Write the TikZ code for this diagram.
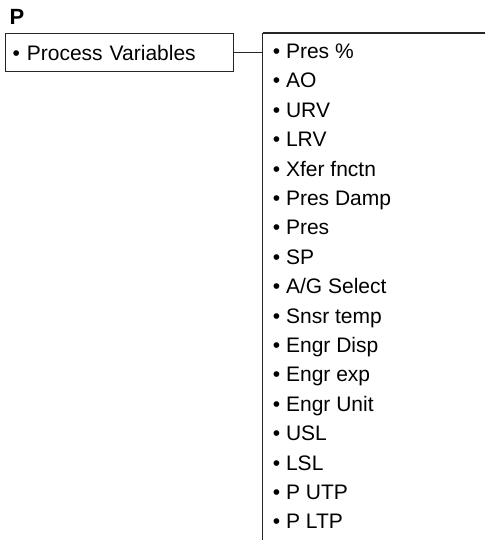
\documentclass[tikz,border=0pt]{standalone}
\usepackage{fontspec}
\setmainfont{Liberation Sans}
\usetikzlibrary{positioning,calc}

\begin{document}
\begin{tikzpicture}[
    x=1bp, y=1bp,
    line/.style={draw=black!85, line width=1.1bp},
    box/.style={line, anchor=north west, align=left, minimum width=228bp, minimum height=38bp, text width=213bp, inner xsep=7.5bp, font=\fontsize{21bp}{25bp}\selectfont},
    varlist/.style={anchor=north west, align=left, inner xsep=10bp, inner ysep=10.8bp, font=\fontsize{21bp}{29.4bp}\selectfont}
]
\useasboundingbox (0,0) rectangle (485,540);
% title
\node[anchor=base west, inner sep=0pt, font=\fontsize{22bp}{26bp}\selectfont\bfseries] (title) at (9.5,515) {P};
% menu entry
\node[box] (pv) at (4.5,507) {• Process Variables};
% open box with the variables
\coordinate (corner) at (262.7,507);
\node[varlist] (vars) at (corner) {• Pres \%\\• AO\\• URV\\• LRV\\• Xfer fnctn\\• Pres Damp\\• Pres\\• SP\\• A/G Select\\• Snsr temp\\• Engr Disp\\• Engr exp\\• Engr Unit\\• USL\\• LSL\\• P UTP\\• P LTP};
\draw[line] (corner) -- (corner -| 485,0);
\draw[line] (corner) -- (corner |- 0,0);
\draw[line] (pv.east) -- (pv.east -| corner);
\end{tikzpicture}
\end{document}
